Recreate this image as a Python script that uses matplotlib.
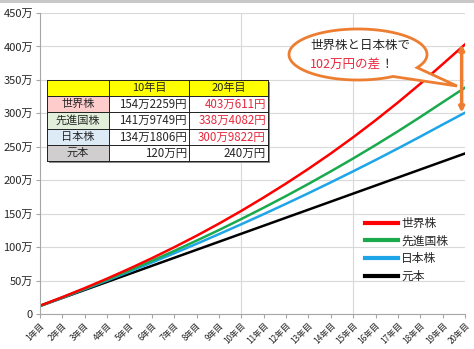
import numpy as np
import matplotlib.pyplot as plt
from matplotlib.patches import Rectangle, Polygon
from matplotlib.lines import Line2D

plt.rcParams['font.family'] = ['Noto Sans CJK JP', 'DejaVu Sans']

# 積立額の推移（万円）
years = [f'{i}年目' for i in range(1, 21)]
sekai = [12.3, 25.2, 38.7, 52.9, 67.8, 83.4, 99.8, 117.0, 135.1, 154.2,
         174.2, 195.1, 217.0, 240.0, 264.2, 289.6, 316.2, 344.1, 373.5, 403.1]
senshin = [12.2, 24.8, 37.8, 51.2, 65.1, 79.5, 94.3, 109.7, 125.5, 142.0,
           158.9, 176.4, 194.5, 213.2, 232.5, 252.5, 273.1, 294.5, 316.5, 338.4]
nihon = [12.1, 24.5, 37.2, 50.1, 63.4, 76.9, 90.8, 104.9, 119.4, 134.2,
         149.3, 164.8, 180.6, 196.8, 213.3, 230.2, 247.5, 265.2, 283.2, 301.0]
ganpon = [12, 24, 36, 48, 60, 72, 84, 96, 108, 120,
          132, 144, 156, 168, 180, 192, 204, 216, 228, 240]

# 表の中身
row_names = ['世界株', '先進国株', '日本株', '元本']
col_heads = ['10年目', '20年目']
val10 = ['154万2259円', '141万9749円', '134万1806円', '120万円']
val20 = ['403万611円', '338万4082円', '300万9822円', '240万円']

RED = '#FF0000'
GREEN = '#1AAA4E'
BLUE = '#1EA5E8'
ORANGE = '#ED7D31'
GRID = '#D9D9D9'
INK = '#262626'

fig = plt.figure(figsize=(4.74, 3.49), dpi=100)
ax = fig.add_axes([40 / 474, 1 - 314 / 349, 425 / 474, 301 / 349])

x = np.arange(len(years))
ax.plot(x, ganpon, color='black', lw=1.8)
ax.plot(x, nihon, color=BLUE, lw=1.8)
ax.plot(x, senshin, color=GREEN, lw=1.8)
ax.plot(x, sekai, color=RED, lw=1.8)

ax.set_xlim(0, len(years) - 1)
ax.set_ylim(0, 450)
yt = np.arange(0, 451, 50)
ax.set_yticks(yt)
ax.set_yticklabels(['0'] + [f'{v}万' for v in yt[1:]], fontsize=8, color=INK)
ax.set_xticks(x)
ax.set_xticklabels(years, rotation=45, ha='right', va='top',
                   rotation_mode='anchor', fontsize=6, color=INK)
ax.tick_params(axis='both', length=3, color='#A6A6A6', width=0.8)
ax.tick_params(axis='y', pad=2)
ax.tick_params(axis='x', pad=2)
ax.yaxis.grid(True, color=GRID, lw=0.8)
ax.set_axisbelow(True)
for i in (9, 14, 19):
    ax.axvline(i, color=GRID, lw=0.8, zorder=0)
for s in ('top', 'right'):
    ax.spines[s].set_visible(False)
for s in ('left', 'bottom'):
    ax.spines[s].set_color('#A6A6A6')
    ax.spines[s].set_linewidth(0.8)

# 20年目の差を示す矢印
ax.annotate('', xy=(x[-1] - 0.15, nihon[-1]), xytext=(x[-1] - 0.15, sekai[-1]),
            arrowprops=dict(arrowstyle='<|-|>', color=ORANGE, lw=2.5,
                            mutation_scale=7, shrinkA=0, shrinkB=0), zorder=5)

handles = [Line2D([], [], color=c, lw=3) for c in (RED, GREEN, BLUE, 'black')]
fig.legend(handles, row_names, loc='upper left',
           bbox_to_anchor=(360 / 474, 1 - 212 / 349), frameon=False,
           fontsize=8.5, handlelength=2.8, handletextpad=0.3,
           labelspacing=0.4, borderaxespad=0, labelcolor=INK)

# ピクセル座標のオーバーレイ（表と吹き出し）
ov = fig.add_axes([0, 0, 1, 1], zorder=3)
ov.set_xlim(0, 474)
ov.set_ylim(349, 0)
ov.axis('off')
ov.patch.set_alpha(0)

ov.add_patch(Rectangle((0, 0), 474, 3, color='#C8C8C8', lw=0))

cx = [47, 109, 189, 268]
ry = [80, 96, 112, 129, 145, 161]
ov.add_patch(Rectangle((cx[0] + 2, ry[0] + 2), cx[-1] - cx[0], ry[-1] - ry[0],
                       color='#8C8C8C', lw=0))
ov.add_patch(Rectangle((cx[0], ry[0]), cx[-1] - cx[0], ry[-1] - ry[0],
                       facecolor='white', edgecolor='none'))
ov.add_patch(Rectangle((cx[0], ry[0]), cx[-1] - cx[0], ry[1] - ry[0],
                       facecolor='#FFFF00', edgecolor='none'))
row_bg = ['#FFCCCC', '#E2EFDA', '#DDEBF7', '#D0CECE']
for r, (name, bg) in enumerate(zip(row_names, row_bg)):
    y0, y1 = ry[r + 1], ry[r + 2]
    ov.add_patch(Rectangle((cx[0], y0), cx[1] - cx[0], y1 - y0,
                           facecolor=bg, edgecolor='none'))
    ym = (y0 + y1) / 2
    ov.text((cx[0] + cx[1]) / 2, ym, name, ha='center', va='center',
            fontsize=8, color=INK)
    ov.text(cx[2] - 2, ym, val10[r], ha='right', va='center',
            fontsize=8.3, color=INK)
    ov.text(cx[3] - 2, ym, val20[r], ha='right', va='center', fontsize=8.3,
            color='#E8283C' if r < 3 else INK)
for c, head in enumerate(col_heads):
    ov.text((cx[c + 1] + cx[c + 2]) / 2, (ry[0] + ry[1]) / 2, head,
            ha='center', va='center', fontsize=8, color=INK)
for xv in cx:
    ov.plot([xv, xv], [ry[0], ry[-1]], color='#202020', lw=0.7)
for yv in ry:
    ov.plot([cx[0], cx[-1]], [yv, yv], color='#202020', lw=0.7)

# 吹き出し
ex, ey, ea, eb = 358, 54.5, 69, 25.5
th = np.radians(np.linspace(59.5, 391, 240))
pts = np.column_stack([ex + ea * np.cos(th), ey + eb * np.sin(th)])
pts = np.vstack([pts, [[457, 86]]])
ov.add_patch(Polygon(pts, closed=True, facecolor='white', edgecolor=ORANGE, lw=2))
ov.text(310, 45, '世界株と日本株で', ha='left', va='center', fontsize=9,
        color=INK)
t2 = ov.text(310, 64, '102万円の差', ha='left', va='center', fontsize=9,
             color='#E8283C')
ov.annotate('！', xy=(1, 0.5), xycoords=t2, ha='left', va='center',
            fontsize=9, color=INK)

fig.savefig('out.png', dpi=100)
